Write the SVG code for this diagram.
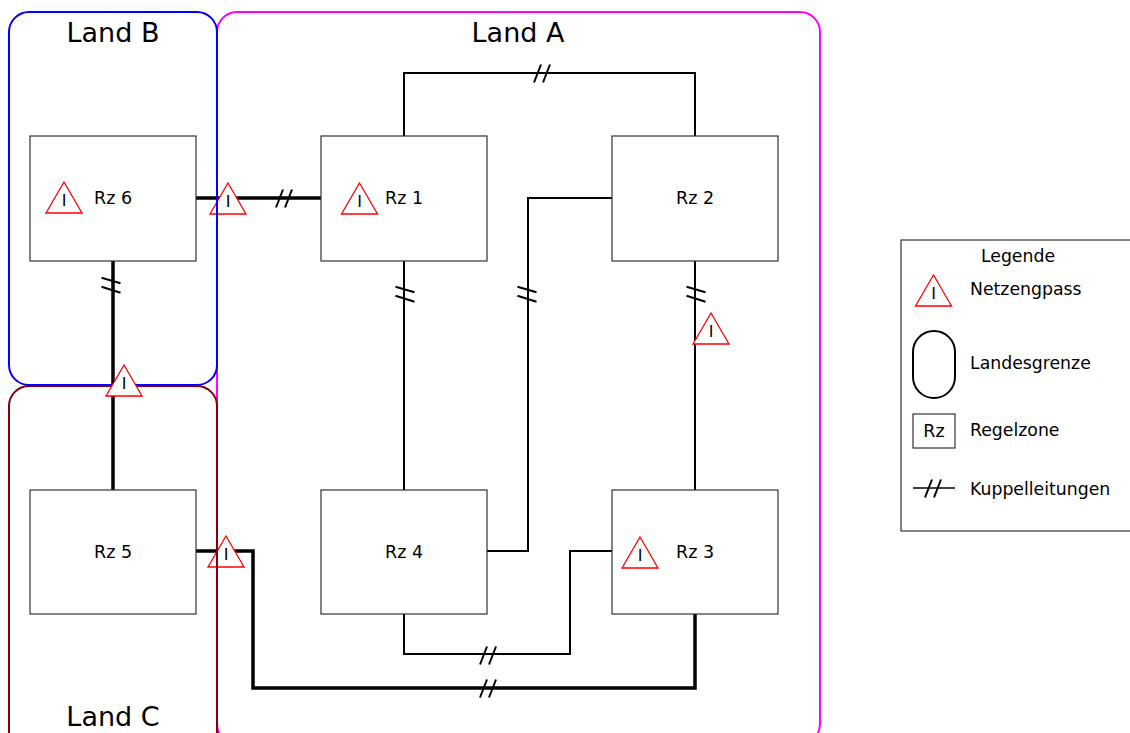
<svg xmlns="http://www.w3.org/2000/svg" xmlns:xlink="http://www.w3.org/1999/xlink" width="1130" height="733" viewBox="0 0 1130 733">
<style>
text{font-family:"DejaVu Sans","Liberation Sans",sans-serif;fill:#000}
.lbl{font-size:27px;text-anchor:middle}
.rz{font-size:17.5px;text-anchor:middle}
.lg{font-size:17.3px}
.box{fill:#fff;stroke:#333;stroke-width:1.2}
.thin{fill:none;stroke:#000;stroke-width:2}
.thick{fill:none;stroke:#000;stroke-width:3.5}
.mk{stroke:#000;stroke-width:2;fill:none}
.land{fill:none;stroke-width:2}
</style>
<defs>
<g id="tri"><polygon points="0,0 18,31 -18,31" fill="#fff" stroke="#f00" stroke-width="1.3"/><text x="0" y="24" style="font-size:16px;text-anchor:middle">I</text></g>
<g id="brkH"><line class="mk" x1="-8" y1="9.5" x2="-1" y2="-8.5"/><line class="mk" x1="1" y1="9.5" x2="8" y2="-8.5"/></g>
<g id="brkV"><line class="mk" x1="-9.5" y1="-7.3" x2="9.5" y2="-1.7"/><line class="mk" x1="-9.5" y1="1.7" x2="9.5" y2="7.7"/></g>
</defs>
<rect width="1130" height="733" fill="#fff"/>
<g id="LandA"><rect class="land" x="217" y="12" width="603" height="732" rx="20" stroke="#f0f"/><text class="lbl" x="518" y="42">Land A</text></g>
<g id="connectors">
<path class="thick" d="M196,198 H321"/>
<path class="thin" d="M404,136 V73 H695 V136"/>
<path class="thin" d="M612,198 H528 V551 H487"/>
<path class="thin" d="M404,261 V490"/>
<path class="thin" d="M695,261 V490"/>
<path class="thin" d="M404,614 V654 H570 V551 H612"/>
<path class="thick" d="M196,551 H253 V688 H695 V614"/>
<path class="thick" d="M113,261 V490"/>
<use xlink:href="#brkH" x="284" y="198"/>
<use xlink:href="#brkH" x="542" y="73"/>
<use xlink:href="#brkV" x="405" y="294"/>
<use xlink:href="#brkV" x="527" y="294"/>
<use xlink:href="#brkV" x="696" y="294"/>
<use xlink:href="#brkV" x="111" y="285"/>
<use xlink:href="#brkH" x="488" y="655"/>
<use xlink:href="#brkH" x="488" y="688"/>
<use xlink:href="#tri" x="228" y="183"/>
<use xlink:href="#tri" x="711" y="313"/>
<use xlink:href="#tri" x="226" y="536"/>
</g>
<g id="LandB"><rect class="land" x="9" y="12" width="208" height="373" rx="20" stroke="#00f"/><text class="lbl" x="113" y="42">Land B</text></g>
<g id="LandC"><rect class="land" x="9" y="386" width="208" height="370" rx="20" stroke="#800010"/><text class="lbl" x="113" y="726">Land C</text></g>
<use xlink:href="#tri" x="124" y="365"/>
<g id="Rz6"><rect class="box" x="30" y="136" width="166" height="125"/><use xlink:href="#tri" x="64" y="182"/><text class="rz" x="113" y="204">Rz 6</text></g>
<g id="Rz1"><rect class="box" x="321" y="136" width="166" height="125"/><use xlink:href="#tri" x="359.5" y="183"/><text class="rz" x="404" y="204">Rz 1</text></g>
<g id="Rz2"><rect class="box" x="612" y="136" width="166" height="125"/><text class="rz" x="695" y="204">Rz 2</text></g>
<g id="Rz5"><rect class="box" x="30" y="490" width="166" height="124"/><text class="rz" x="113" y="558">Rz 5</text></g>
<g id="Rz4"><rect class="box" x="321" y="490" width="166" height="124"/><text class="rz" x="404" y="558">Rz 4</text></g>
<g id="Rz3"><rect class="box" x="612" y="490" width="166" height="124"/><use xlink:href="#tri" x="640" y="537"/><text class="rz" x="695" y="558">Rz 3</text></g>
<g id="legend">
<rect x="901" y="240" width="240" height="291" fill="#fff" stroke="#333" stroke-width="1.2"/>
<text class="lg" x="1018" y="262" text-anchor="middle">Legende</text>
<use xlink:href="#tri" x="933.5" y="275"/>
<text class="lg" x="970" y="295">Netzengpass</text>
<rect x="913" y="331" width="42" height="67" rx="21" fill="none" stroke="#000" stroke-width="2"/>
<text class="lg" x="970" y="369">Landesgrenze</text>
<rect class="box" x="913" y="414" width="42" height="34"/>
<text class="rz" x="934" y="437">Rz</text>
<text class="lg" x="970" y="436">Regelzone</text>
<line x1="913" y1="488" x2="955" y2="488" stroke="#000" stroke-width="1.3"/>
<use xlink:href="#brkH" x="933" y="488"/>
<text class="lg" x="970" y="495">Kuppelleitungen</text>
</g>
</svg>
